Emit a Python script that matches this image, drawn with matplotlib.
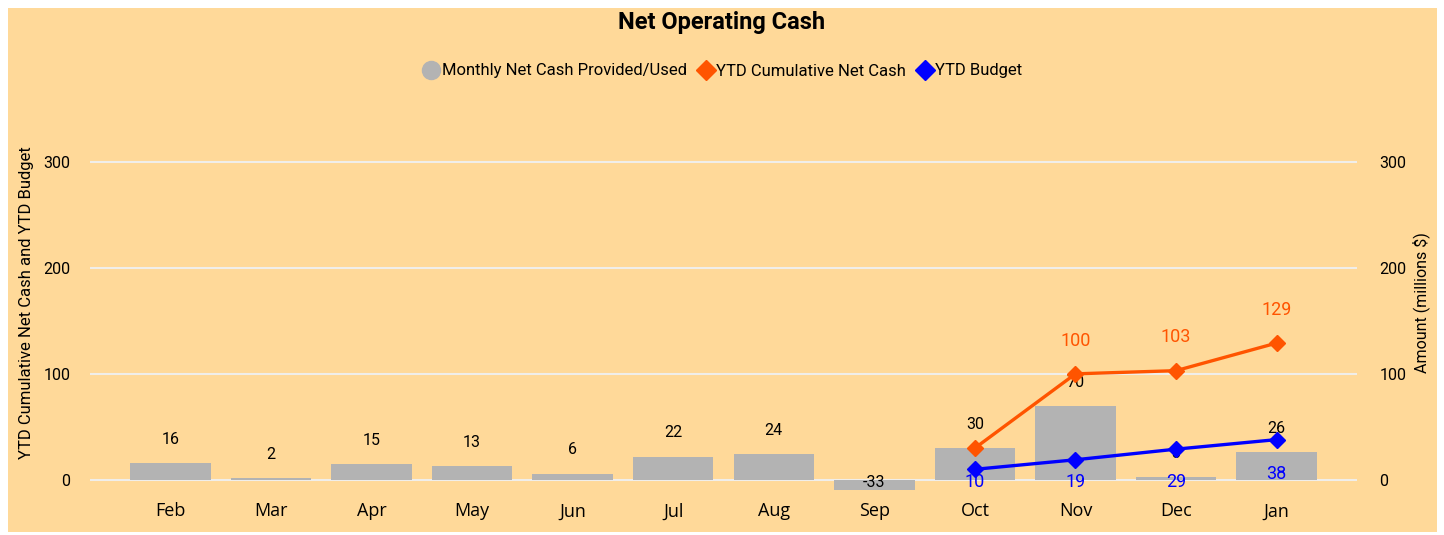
"""
Net operating cash: monthly bars with YTD cumulative and budget lines
"""
import matplotlib.pyplot as plt
from matplotlib.lines import Line2D
from matplotlib.patches import Rectangle
import numpy as np

plt.rcParams['font.family'] = ['Roboto', 'DejaVu Sans']

# Data
months = ['Feb', 'Mar', 'Apr', 'May', 'Jun', 'Jul', 'Aug', 'Sep', 'Oct', 'Nov', 'Dec', 'Jan']
monthly_net = [16, 2, 15, 13, 6, 22, 24, -33, 30, 70, 3, 26]
ytd_months = ['Oct', 'Nov', 'Dec', 'Jan']
ytd_cumulative = [30, 100, 103, 129]
ytd_budget = [10, 19, 29, 38]

bg = '#FFD999'
grey = '#B3B3B3'
orange = '#FF5400'
blue = '#0000FF'
grid_col = '#F0EEEA'

fig = plt.figure(figsize=(14.44, 5.35), dpi=100, facecolor='white')
fig.patches.append(Rectangle((8 / 1444, 3 / 535), 1429 / 1444, 524 / 535,
                             transform=fig.transFigure, facecolor=bg,
                             edgecolor='none', zorder=-10))

ax = fig.add_axes([90 / 1444, 45 / 535, 1267 / 1444, 375 / 535])
ax.set_facecolor('none')
ax2 = ax.twinx()

x = np.arange(len(months))
ytd_x = np.array([months.index(m) for m in ytd_months])

# Bars
bars = ax.bar(x, monthly_net, width=0.8, color=grey, zorder=2)
for bar, val in zip(bars, monthly_net):
    cx = bar.get_x() + bar.get_width() / 2
    if val < 0:
        ax.annotate(f'{val}', (cx, 0), xytext=(0, -2), textcoords='offset points',
                    ha='center', va='center', fontsize=11.5, color='black', zorder=5)
    else:
        ax.annotate(f'{val}', (cx, val), xytext=(0, 17), textcoords='offset points',
                    ha='center', va='center', fontsize=11.5, color='black', zorder=5)

# Lines
ax2.plot(ytd_x, ytd_cumulative, color=orange, lw=2.4, marker='D', ms=8, zorder=4)
ax2.plot(ytd_x, ytd_budget, color=blue, lw=2.4, marker='D', ms=8, zorder=4)

for xi, val in zip(ytd_x[1:], ytd_cumulative[1:]):
    ax2.annotate(f'{val}', (xi, val), xytext=(0, 24), textcoords='offset points',
                 ha='center', va='center', fontsize=13, color=orange)

budget_label_y = [-2, -2, -2, 6]
for xi, val, ly in zip(ytd_x, ytd_budget, budget_label_y):
    ax2.text(xi, ly, f'{val}', ha='center', va='center', fontsize=13, color=blue)

# Axes styling
for a in (ax, ax2):
    a.set_ylim(-9.5, 344)
    a.set_yticks([0, 100, 200, 300])
    for s in a.spines.values():
        s.set_visible(False)
    a.tick_params(length=0, labelsize=11.5)

ax.set_xlim(-0.8, 11.8)
ax.set_xticks(x)
ax.set_xticklabels(months, fontsize=13, family=['Open Sans', 'DejaVu Sans'])
ax.tick_params(axis='x', pad=9)
ax.tick_params(axis='y', pad=14)
ax2.tick_params(axis='y', pad=16)
for yv in [0, 100, 200, 300]:
    ax.axhline(yv, color=grid_col, lw=1.5, zorder=1)

ax.set_ylabel('YTD Cumulative Net Cash and YTD Budget', fontsize=12, labelpad=7)
ax2.set_ylabel('Amount (millions $)', fontsize=11.5, labelpad=4)

# Title and legend
fig.text(0.5, 1 - 22 / 535, 'Net Operating Cash', ha='center', va='center',
         fontsize=17, fontweight='bold')
handles = [
    Line2D([], [], ls='none', marker='o', ms=13, color=grey),
    Line2D([], [], ls='none', marker='D', ms=10, color=orange),
    Line2D([], [], ls='none', marker='D', ms=10, color=blue),
]
labels = ['Monthly Net Cash Provided/Used', 'YTD Cumulative Net Cash', 'YTD Budget']
fig.legend(handles, labels, loc='center', bbox_to_anchor=(0.5, 1 - 71 / 535), ncol=3,
           frameon=False, fontsize=12, handletextpad=0.05, columnspacing=0.5,
           handlelength=1.2)

plt.savefig('out.png', dpi=100, facecolor=fig.get_facecolor())
